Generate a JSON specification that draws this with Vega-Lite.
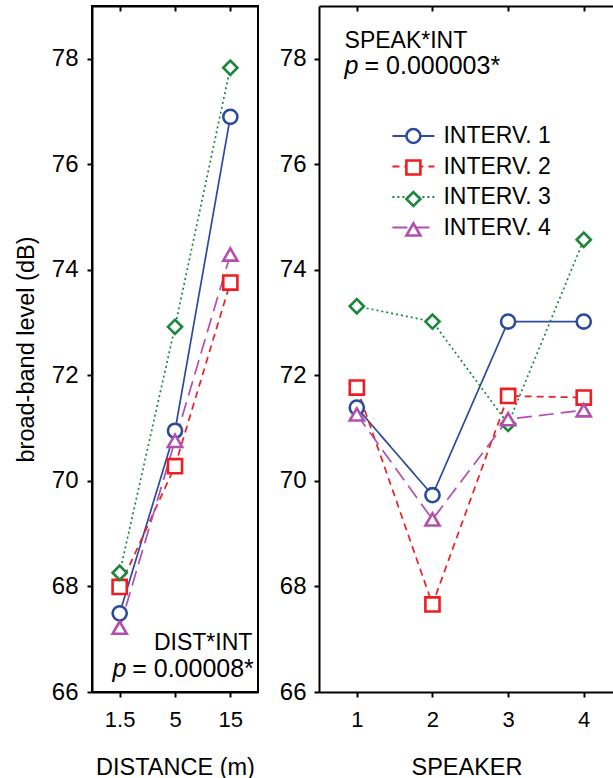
{
  "$schema": "https://vega.github.io/schema/vega-lite/v6.json",
  "padding": {"left": 13, "top": 4, "right": 0, "bottom": 0},
  "background": "white",
  "config": {
    "font": "Liberation Sans",
    "view": {"stroke": null},
    "axis": {
      "domainColor": "black", "domainWidth": 2, "tickColor": "black", "tickWidth": 2, "tickSize": 5,
      "grid": false, "labelFont": "Liberation Sans", "labelFontSize": 23, "labelColor": "black",
      "titleFont": "Liberation Sans", "titleFontSize": 23.5, "titleFontWeight": "normal", "titleColor": "black"
    },
    "axisRight": {"domain": false, "ticks": false, "labels": false, "title": null},
    "text": {"font": "Liberation Sans", "fontSize": 23, "color": "black"}
  },
  "datasets": {
    "dist": [
      {"series": "INTERV. 1", "distance": "1.5", "level": 67.49},
      {"series": "INTERV. 1", "distance": "5", "level": 70.95},
      {"series": "INTERV. 1", "distance": "15", "level": 76.90},
      {"series": "INTERV. 2", "distance": "1.5", "level": 67.99},
      {"series": "INTERV. 2", "distance": "5", "level": 70.28},
      {"series": "INTERV. 2", "distance": "15", "level": 73.76},
      {"series": "INTERV. 3", "distance": "1.5", "level": 68.26},
      {"series": "INTERV. 3", "distance": "5", "level": 72.92},
      {"series": "INTERV. 3", "distance": "15", "level": 77.83},
      {"series": "INTERV. 4", "distance": "1.5", "level": 67.22},
      {"series": "INTERV. 4", "distance": "5", "level": 70.76},
      {"series": "INTERV. 4", "distance": "15", "level": 74.29}
    ],
    "speak": [
      {"series": "INTERV. 1", "speaker": 1, "level": 71.39},
      {"series": "INTERV. 1", "speaker": 2, "level": 69.73},
      {"series": "INTERV. 1", "speaker": 3, "level": 73.02},
      {"series": "INTERV. 1", "speaker": 4, "level": 73.02},
      {"series": "INTERV. 2", "speaker": 1, "level": 71.77},
      {"series": "INTERV. 2", "speaker": 2, "level": 67.66},
      {"series": "INTERV. 2", "speaker": 3, "level": 71.61},
      {"series": "INTERV. 2", "speaker": 4, "level": 71.58},
      {"series": "INTERV. 3", "speaker": 1, "level": 73.31},
      {"series": "INTERV. 3", "speaker": 2, "level": 73.02},
      {"series": "INTERV. 3", "speaker": 3, "level": 71.08},
      {"series": "INTERV. 3", "speaker": 4, "level": 74.57},
      {"series": "INTERV. 4", "speaker": 1, "level": 71.26},
      {"series": "INTERV. 4", "speaker": 2, "level": 69.27},
      {"series": "INTERV. 4", "speaker": 3, "level": 71.17},
      {"series": "INTERV. 4", "speaker": 4, "level": 71.34}
    ]
  },
  "spacing": 61,
  "bounds": "flush",
  "resolve": {
    "scale": {"color": "independent", "shape": "independent", "strokeDash": "independent"},
    "legend": {"color": "independent", "shape": "independent", "strokeDash": "independent"}
  },
  "hconcat": [
    {
      "width": 166,
      "height": 686,
      "view": {"stroke": "black", "strokeWidth": 2},
      "data": {"name": "dist"},
      "resolve": {"axis": {"x": "independent", "y": "independent"}},
      "layer": [
        {
          "mark": {"type": "line", "strokeWidth": 1.7},
          "encoding": {
            "x": {"field": "distance", "type": "ordinal", "scale": {"domain": ["1.5", "5", "15"], "padding": 0.5},
              "axis": {"orient": "bottom", "title": "DISTANCE (m)", "labelAngle": 0, "labelPadding": 12, "titlePadding": 25, "labelFontSize": 22}},
            "y": {"field": "level", "type": "quantitative", "scale": {"domain": [66, 79], "nice": false, "zero": false},
              "axis": {"orient": "left", "values": [66, 68, 70, 72, 74, 76, 78], "title": "broad-band level (dB)", "labelPadding": 9, "titlePadding": 13, "labelFontSize": 24}},
            "color": {"field": "series", "type": "nominal", "legend": null,
              "scale": {"domain": ["INTERV. 1", "INTERV. 2", "INTERV. 3", "INTERV. 4"], "range": ["#2C4B9F", "#EE1D23", "#1B873B", "#B24FAE"]}},
            "strokeDash": {"field": "series", "type": "nominal", "legend": null,
              "scale": {"domain": ["INTERV. 1", "INTERV. 2", "INTERV. 3", "INTERV. 4"], "range": [[1, 0], [7, 5], [2, 3], [15, 7]]}}
          }
        },
        {
          "mark": {"type": "point", "filled": false, "fill": "white", "opacity": 1, "strokeWidth": 2.6, "size": 200},
          "encoding": {
            "x": {"field": "distance", "type": "ordinal", "scale": {"domain": ["1.5", "5", "15"], "padding": 0.5},
              "axis": {"orient": "top", "labels": false, "title": null, "tickSize": -5}},
            "y": {"field": "level", "type": "quantitative", "axis": null},
            "color": {"field": "series", "type": "nominal", "legend": null},
            "shape": {"field": "series", "type": "nominal", "legend": null,
              "scale": {"domain": ["INTERV. 1", "INTERV. 2", "INTERV. 3", "INTERV. 4"], "range": ["circle", "square", "diamond", "triangle-up"]}}
          }
        },
        {
          "data": {"values": [{"label": "DIST*INT"}]},
          "mark": {"type": "text", "align": "right", "baseline": "alphabetic", "dx": 22},
          "encoding": {
            "x": {"datum": "15", "axis": null},
            "y": {"datum": 66.8, "axis": null},
            "text": {"field": "label"}
          }
        },
        {
          "data": {"values": [{"label": "= 0.00008*"}]},
          "mark": {"type": "text", "align": "right", "baseline": "alphabetic", "dx": 23.5, "fontSize": 25},
          "encoding": {
            "x": {"datum": "15", "axis": null},
            "y": {"datum": 66.28, "axis": null},
            "text": {"field": "label"}
          }
        },
        {
          "data": {"values": [{"label": "p"}]},
          "mark": {"type": "text", "align": "right", "baseline": "alphabetic", "dx": -104, "fontSize": 25, "fontStyle": "italic"},
          "encoding": {
            "x": {"datum": "15", "axis": null},
            "y": {"datum": 66.28, "axis": null},
            "text": {"field": "label"}
          }
        }
      ]
    },
    {
      "width": 295,
      "height": 686,
      "view": {"stroke": null},
      "data": {"name": "speak"},
      "resolve": {
        "axis": {"x": "independent", "y": "independent"},
        "legend": {"color": "independent", "shape": "independent", "strokeDash": "independent"}
      },
      "layer": [
        {
          "mark": {"type": "line", "strokeWidth": 1.7},
          "encoding": {
            "x": {"field": "speaker", "type": "quantitative", "scale": {"domain": [0.5, 4.4], "nice": false, "zero": false},
              "axis": {"orient": "bottom", "values": [1, 2, 3, 4], "format": "d", "title": "SPEAKER", "labelPadding": 12, "titlePadding": 25, "labelFontSize": 22}},
            "y": {"field": "level", "type": "quantitative", "scale": {"domain": [66, 79], "nice": false, "zero": false},
              "axis": {"orient": "left", "values": [66, 68, 70, 72, 74, 76, 78], "title": null, "labelPadding": 8, "labelFontSize": 24}},
            "color": {"field": "series", "type": "nominal",
              "scale": {"domain": ["INTERV. 1", "INTERV. 2", "INTERV. 3", "INTERV. 4"], "range": ["#2C4B9F", "#EE1D23", "#1B873B", "#B24FAE"]},
              "legend": {"orient": "none", "legendX": 82.9, "legendY": 118.5, "title": null, "symbolType": "M-3,0H3", "symbolSize": 196, "symbolStrokeWidth": 1.8,
                "labelFontSize": 23, "labelFont": "Liberation Sans", "labelColor": "black", "labelOffset": 18.5, "rowPadding": 6.5, "padding": 0}},
            "strokeDash": {"field": "series", "type": "nominal",
              "scale": {"domain": ["INTERV. 1", "INTERV. 2", "INTERV. 3", "INTERV. 4"], "range": [[1, 0], [7, 5], [2, 3], [15, 7]]},
              "legend": {"orient": "none", "legendX": 82.9, "legendY": 118.5, "title": null, "symbolType": "M-3,0H3", "symbolSize": 196, "symbolStrokeWidth": 1.8,
                "labelFontSize": 23, "labelFont": "Liberation Sans", "labelColor": "black", "labelOffset": 18.5, "rowPadding": 6.5, "padding": 0}}
          }
        },
        {
          "mark": {"type": "point", "filled": false, "fill": "white", "opacity": 1, "strokeWidth": 2.6, "size": 200},
          "encoding": {
            "x": {"field": "speaker", "type": "quantitative", "scale": {"domain": [0.5, 4.4], "nice": false, "zero": false},
              "axis": {"orient": "top", "values": [1, 2, 3, 4], "labels": false, "title": null, "tickSize": -5}},
            "y": {"field": "level", "type": "quantitative", "axis": null},
            "color": {"field": "series", "type": "nominal",
              "legend": {"orient": "none", "legendX": 82.9, "legendY": 118.5, "title": null, "symbolSize": 196, "symbolStrokeWidth": 2.6, "symbolFillColor": "white",
                "labelFontSize": 23, "labelFont": "Liberation Sans", "labelExpr": "''", "labelOffset": 18.5, "rowPadding": 6.5, "padding": 0,
                "encode": {"symbols": {"update": {"fill": {"value": "white"}}}}}},
            "shape": {"field": "series", "type": "nominal",
              "scale": {"domain": ["INTERV. 1", "INTERV. 2", "INTERV. 3", "INTERV. 4"], "range": ["circle", "square", "diamond", "triangle-up"]},
              "legend": {"orient": "none", "legendX": 82.9, "legendY": 118.5, "title": null, "symbolSize": 196, "symbolStrokeWidth": 2.6, "symbolFillColor": "white",
                "labelFontSize": 23, "labelFont": "Liberation Sans", "labelExpr": "''", "labelOffset": 18.5, "rowPadding": 6.5, "padding": 0,
                "encode": {"symbols": {"update": {"fill": {"value": "white"}}}}}}
          }
        },
        {
          "data": {"values": [{"label": "SPEAK*INT"}]},
          "mark": {"type": "text", "align": "left", "baseline": "alphabetic"},
          "encoding": {
            "x": {"datum": 0.838, "axis": null},
            "y": {"datum": 78.2, "axis": null},
            "text": {"field": "label"}
          }
        },
        {
          "data": {"values": [{"label": "p"}]},
          "mark": {"type": "text", "align": "left", "baseline": "alphabetic", "fontSize": 25, "fontStyle": "italic"},
          "encoding": {
            "x": {"datum": 0.838, "axis": null},
            "y": {"datum": 77.72, "axis": null},
            "text": {"field": "label"}
          }
        },
        {
          "data": {"values": [{"label": "= 0.000003*"}]},
          "mark": {"type": "text", "align": "left", "baseline": "alphabetic", "dx": 20, "fontSize": 25},
          "encoding": {
            "x": {"datum": 0.838, "axis": null},
            "y": {"datum": 77.72, "axis": null},
            "text": {"field": "label"}
          }
        }
      ]
    }
  ]
}
